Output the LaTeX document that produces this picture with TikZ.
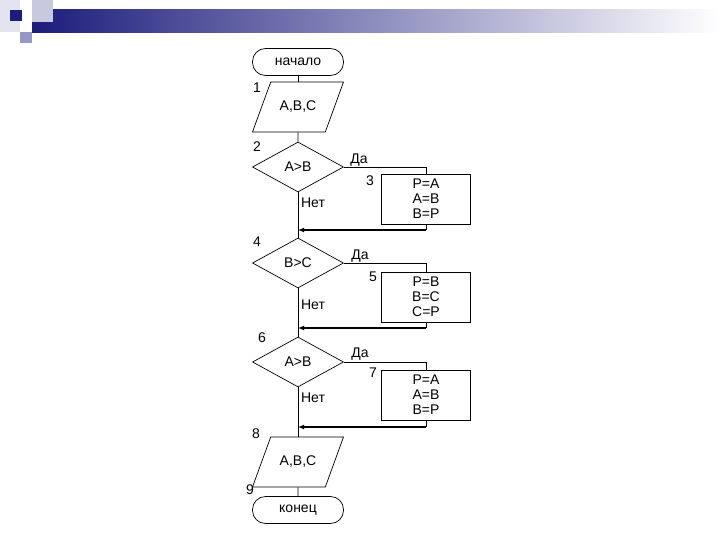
\documentclass[tikz,border=0pt]{standalone}
\usepackage{fontspec}
\setmainfont{Liberation Sans}
\usetikzlibrary{positioning, arrows.meta, shapes.geometric}

\definecolor{navy}{RGB}{28,28,124}
\definecolor{lavA}{RGB}{200,200,225}
\definecolor{lavB}{RGB}{150,150,200}
\definecolor{lavC}{RGB}{228,228,240}

\tikzset{
    terminal/.style={draw, rounded corners=13pt, minimum width=91pt, minimum height=27pt, inner sep=0pt},
    io/.style={draw, trapezium, trapezium left angle=70, trapezium right angle=110,
        trapezium stretches body, text height=9pt, text depth=2pt,
        inner xsep=2pt, inner ysep=19.5pt, minimum width=91pt},
    decision/.style={draw, diamond, minimum width=91pt, minimum height=50pt, inner sep=0pt},
    process/.style={draw, minimum width=89pt, minimum height=50pt, align=center, inner sep=0pt},
    num/.style={inner sep=0pt},
    back/.style={line width=1.6pt, -{Latex[length=6pt,width=5pt]}},
}

\begin{document}
\begin{tikzpicture}[x=1pt, y=-1pt, line width=0.7pt,
        every node/.style={font=\fontsize{14}{15}\selectfont}]
    \useasboundingbox (0,0) rectangle (720,540);
    % slide header
    \shade[left color=navy, right color=white, draw=none] (32,10) rectangle (720,33);
    \fill[lavC] (0,0) rectangle (20,32);
    \fill[lavA] (32,0) rectangle (53,22);
    \fill[lavB] (20,32) rectangle (32,43);
    \fill[navy] (10,10) rectangle (22,21);

    % blocks
    \node[terminal] (start) at (298,62) {начало};
    \node[io] (in1) at (298,107) {A,B,C};
    \node[decision] (if2) at (298,167) {A>B};
    \node[process] (box3) at (426,199) {P=A\\A=B\\B=P};
    \node[decision] (if4) at (298,263) {B>C};
    \node[process] (box5) at (426,297) {P=B\\B=C\\C=P};
    \node[decision] (if6) at (298,362) {A>B};
    \node[process] (box7) at (426,395) {P=A\\A=B\\B=P};
    \node[io] (out8) at (298,462) {A,B,C};
    \node[terminal] (stop) at (298,510) {конец};

    % numbers
    \node[num] (n1) at (257,88) {1};
    \node[num] (n2) at (257,147) {2};
    \node[num] (n3) at (370,181) {3};
    \node[num] (n4) at (257,242) {4};
    \node[num] (n5) at (373,277) {5};
    \node[num] (n6) at (262,338) {6};
    \node[num] (n7) at (373,373) {7};
    \node[num] (n8) at (256,434) {8};
    \node[num] (n9) at (250,490) {9};

    % yes / no
    \node[num] (yes2) at (359,160) {Да};
    \node[num] (yes4) at (360,256) {Да};
    \node[num] (yes6) at (360,354) {Да};
    \node[num] (no2) at (313,203) {Нет};
    \node[num] (no4) at (313,305) {Нет};
    \node[num] (no6) at (313,398) {Нет};

    % join points
    \coordinate (j3) at (298,230);
    \coordinate (j5) at (298,328);
    \coordinate (j7) at (298,427);

    % lines
    \draw (start) -- (in1);
    \draw (in1) -- (if2);
    \draw (if2) -- (if4);
    \draw (if4) -- (if6);
    \draw (if6) -- (out8);
    \draw (out8) -- (stop);
    \draw (if2.east) -| (box3.north);
    \draw (if4.east) -| (box5.north);
    \draw (if6.east) -| (box7.north);
    \draw (box3.south) -- (box3.south |- j3);
    \draw (box5.south) -- (box5.south |- j5);
    \draw (box7.south) -- (box7.south |- j7);
    \draw[back] (box3.south |- j3) -- (j3);
    \draw[back] (box5.south |- j5) -- (j5);
    \draw[back] (box7.south |- j7) -- (j7);
\end{tikzpicture}
\end{document}
